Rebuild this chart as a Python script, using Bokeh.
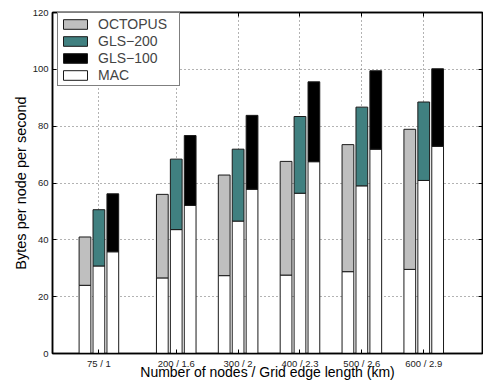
from bokeh.plotting import figure
from bokeh.models import ColumnDataSource, FixedTicker, LinearAxis, Legend, LegendItem, Range1d
from bokeh.transform import dodge
from bokeh.embed import file_html
from bokeh.resources import INLINE

nodes = [75, 200, 300, 400, 500, 600]
x_labels = ["75 / 1", "200 / 1.6", "300 / 2", "400 / 2.3", "500 / 2.6", "600 / 2.9"]
y_ticks = [0, 20, 40, 60, 80, 100, 120]

octopus_total = [41.0, 56.0, 62.8, 67.6, 73.5, 78.9]
octopus_mac = [24.0, 26.6, 27.4, 27.6, 28.8, 29.6]
gls200_total = [50.6, 68.4, 71.9, 83.4, 86.7, 88.5]
gls200_mac = [30.8, 43.6, 46.6, 56.4, 59.0, 60.9]
gls100_total = [56.2, 76.7, 83.8, 95.6, 99.5, 100.2]
gls100_mac = [35.8, 52.1, 57.8, 67.5, 71.9, 72.9]

FONT = "Liberation Sans"
W, H = 483, 382
ML, MR, MT, MB = 52, 1, 12, 29
FW, FH = W - ML - MR, H - MT - MB

p = figure(width=W, height=H, output_backend="svg", toolbar_location=None,
           x_range=Range1d(0, 695), y_range=Range1d(0, 120),
           min_border_left=ML, min_border_right=MR, min_border_top=MT, min_border_bottom=MB)
p.background_fill_color = "white"
p.border_fill_color = "white"
p.outline_line_color = "black"
p.outline_line_width = 1.5

src = ColumnDataSource(dict(
    x=nodes,
    oct_t=octopus_total, oct_m=octopus_mac,
    g200_t=gls200_total, g200_m=gls200_mac,
    g100_t=gls100_total, g100_m=gls100_mac,
))

series = [
    ("OCTOPUS", "oct", -22.5, "#bfbfbf"),
    ("GLS\u2212200", "g200", 0.0, "#408080"),
    ("GLS\u2212100", "g100", 22.5, "#000000"),
]
BW = 19
items = []
mac_renderer = None
for name, key, off, col in series:
    r_mac = p.vbar(x=dodge("x", off), bottom=0, top=key + "_m", width=BW, source=src,
                   fill_color="white", line_color="#1a1a1a", line_width=1)
    r_top = p.vbar(x=dodge("x", off), bottom=key + "_m", top=key + "_t", width=BW, source=src,
                   fill_color=col, line_color="#1a1a1a", line_width=1)
    items.append(LegendItem(label=name, renderers=[r_top]))
    if mac_renderer is None:
        mac_renderer = r_mac
items.append(LegendItem(label="MAC", renderers=[mac_renderer]))

legend = Legend(items=items, location=(5, FH - 2 - 72), margin=0, padding=2, spacing=0,
                glyph_width=30, glyph_height=12, label_height=17, label_width=79,
                label_standoff=8, label_text_font=FONT, label_text_font_size="14px",
                border_line_color="black", border_line_width=1,
                background_fill_color="white", background_fill_alpha=1)
p.add_layout(legend)

xa = p.xaxis[0]
xa.ticker = FixedTicker(ticks=nodes)
xa.major_label_overrides = {n: l for n, l in zip(nodes, x_labels)}
xa.axis_label = "Number of nodes / Grid edge length (km)"
ya = p.yaxis[0]
ya.ticker = FixedTicker(ticks=y_ticks)
ya.axis_label = "Bytes per node per second"
for ax in (xa, ya):
    ax.major_tick_in = 4
    ax.major_tick_out = 0
    ax.minor_tick_line_color = None
    ax.axis_line_color = "black"
    ax.axis_line_width = 1.5
    ax.major_tick_line_color = "black"
    ax.major_label_text_font = FONT
    ax.major_label_text_font_size = "9.5px"
    ax.major_label_text_color = "#222222"
    ax.axis_label_text_font = FONT
    ax.axis_label_text_font_size = "14px"
    ax.axis_label_text_font_style = "normal"
    ax.axis_label_text_color = "black"
xa.major_label_standoff = 4
xa.axis_label_standoff = -8
ya.major_label_standoff = 4
ya.axis_label_standoff = 1
ya.axis_label_text_font_size = "14.5px"

top = LinearAxis(ticker=FixedTicker(ticks=nodes), major_label_overrides={n: "" for n in nodes})
right = LinearAxis(ticker=FixedTicker(ticks=y_ticks), major_label_overrides={t: "" for t in y_ticks})
for ax in (top, right):
    ax.major_tick_in = 4
    ax.major_tick_out = 0
    ax.minor_tick_line_color = None
    ax.axis_line_color = "black"
    ax.axis_line_width = 1.5
    ax.major_label_standoff = 0
    ax.major_label_text_font_size = "1px"
p.add_layout(top, "above")
p.add_layout(right, "right")

p.xgrid.ticker = FixedTicker(ticks=nodes)
p.ygrid.ticker = FixedTicker(ticks=y_ticks)
for g in (p.xgrid, p.ygrid):
    g.grid_line_color = "#666666"
    g.grid_line_dash = "1 3"
    g.grid_line_width = 1

open("out.html", "w").write(file_html(p, INLINE))
